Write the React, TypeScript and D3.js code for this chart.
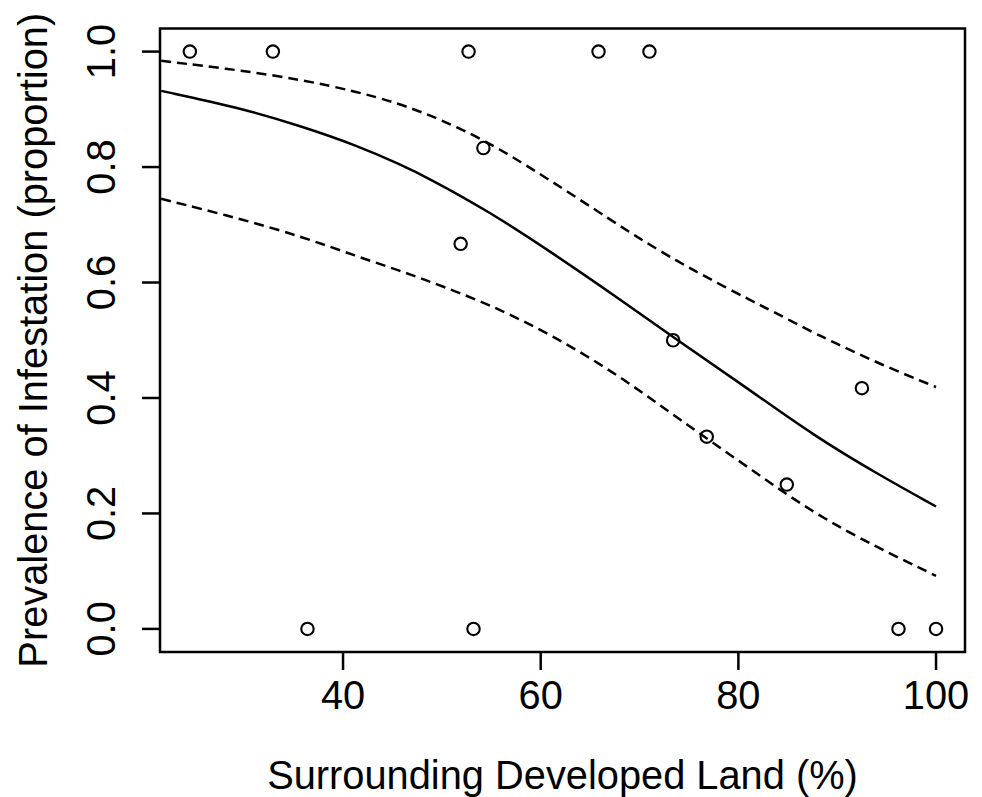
import { useEffect } from "react";
import * as d3 from "d3";

// observed points: surrounding developed land (%) vs prevalence
const pointX = [24.5, 32.9, 36.4, 51.9, 52.7, 53.2, 54.2, 65.85, 71.0, 73.4, 76.8, 84.9, 92.5, 96.2, 100];
const pointY = [1.0, 1.0, 0.0, 0.667, 1.0, 0.0, 0.833, 1.0, 1.0, 0.5, 0.333, 0.25, 0.417, 0.0, 0.0];

// fitted curve and lower band
const fitX = [21.6, 29.5, 35.9, 41.3, 46.0, 48.4, 54.6, 61.3, 68.1, 74.1, 80.9, 87.6, 94.4, 100];
const fitY = [0.932, 0.903, 0.87, 0.838, 0.803, 0.783, 0.725, 0.65, 0.57, 0.497, 0.417, 0.335, 0.265, 0.212];
const lowerY = [0.745, 0.711, 0.679, 0.646, 0.619, 0.604, 0.564, 0.508, 0.437, 0.362, 0.281, 0.2, 0.138, 0.092];

// upper band
const upperX = [21.6, 29.5, 35.9, 41.3, 45.5, 48.9, 52.2, 55.6, 60.7, 67.4, 70.1, 73.8, 76.8, 80.9, 83.6, 87.6, 89.6, 94.4, 100];
const upperY = [0.984, 0.968, 0.951, 0.931, 0.911, 0.889, 0.864, 0.834, 0.78, 0.705, 0.675, 0.637, 0.609, 0.572, 0.549, 0.513, 0.497, 0.458, 0.419];

const xTicks = [40, 60, 80, 100];
const yTicks = [0, 0.2, 0.4, 0.6, 0.8, 1.0];

const xLabel = "Surrounding Developed Land (%)";
const yLabel = "Prevalence of Infestation (proportion)";

export default function App() {
	const width = 982;
	const height = 797;
	const plot = { left: 160, right: 965, top: 28.5, bottom: 652 };
	const font = "'Liberation Sans', Arial, Helvetica, sans-serif";
	const fs = 39.8;

	useEffect(() => {
		document.body.style.margin = "0";
	}, []);

	// R-style 4% padding on both axes
	const xScale = d3.scaleLinear().domain([21.48, 102.93]).range([plot.left, plot.right]);
	const yScale = d3.scaleLinear().domain([-0.04, 1.04]).range([plot.bottom, plot.top]);

	const makeLine = (xs: number[], ys: number[]) =>
		d3
			.line<number>()
			.x((i) => xScale(xs[i]))
			.y((i) => yScale(ys[i]))
			.curve(d3.curveBasis)(d3.range(xs.length)) || "";

	const lw = 2.5;

	return (
		<svg width={width} height={height} style={{ display: "block", background: "#fff" }}>
			<defs>
				<clipPath id="plotclip">
					<rect x={plot.left} y={plot.top} width={plot.right - plot.left} height={plot.bottom - plot.top} />
				</clipPath>
			</defs>

			<g clipPath="url(#plotclip)" fill="none" stroke="#000" strokeWidth={lw}>
				<path d={makeLine(fitX, fitY)} />
				<path d={makeLine(upperX, upperY)} strokeDasharray="10 6" />
				<path d={makeLine(fitX, lowerY)} strokeDasharray="10 6" />
			</g>

			{pointX.map((x, i) => (
				<circle key={i} cx={xScale(x)} cy={yScale(pointY[i])} r={6.2} fill="none" stroke="#000" strokeWidth={2.1} />
			))}

			{/* box */}
			<rect
				x={plot.left}
				y={plot.top}
				width={plot.right - plot.left}
				height={plot.bottom - plot.top}
				fill="none"
				stroke="#000"
				strokeWidth={2.5}
			/>

			{/* x axis */}
			{xTicks.map((t) => (
				<g key={t} transform={`translate(${xScale(t)},0)`}>
					<line y1={plot.bottom} y2={plot.bottom + 18} stroke="#000" strokeWidth={2.5} />
					<text y={709} textAnchor="middle" fontFamily={font} fontSize={fs} fill="#000">
						{t}
					</text>
				</g>
			))}

			{/* y axis */}
			{yTicks.map((t) => (
				<g key={t} transform={`translate(0,${yScale(t)})`}>
					<line x1={plot.left - 18} x2={plot.left} stroke="#000" strokeWidth={2.5} />
					<text
						transform="translate(115,0) rotate(-90)"
						textAnchor="middle"
						fontFamily={font}
						fontSize={fs}
						fill="#000"
					>
						{t.toFixed(1)}
					</text>
				</g>
			))}

			<text x={(plot.left + plot.right) / 2} y={789} textAnchor="middle" fontFamily={font} fontSize={fs} fill="#000">
				{xLabel}
			</text>
			<text
				transform={`translate(47,${(plot.top + plot.bottom) / 2}) rotate(-90)`}
				textAnchor="middle"
				fontFamily={font}
				fontSize={fs}
				fill="#000"
			>
				{yLabel}
			</text>
		</svg>
	);
}
